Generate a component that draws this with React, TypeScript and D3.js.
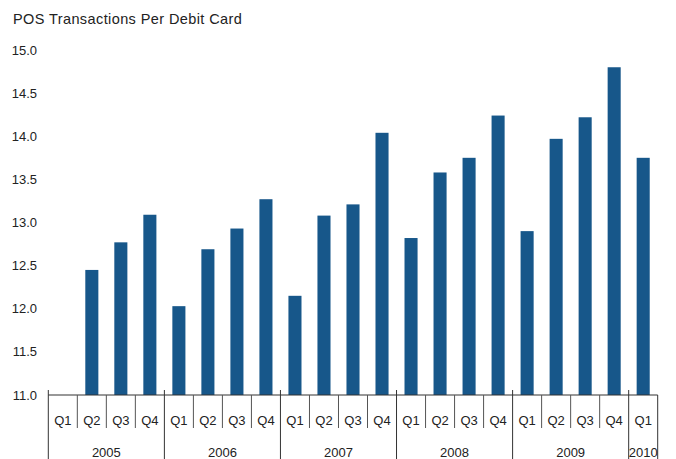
import React from 'react';
import * as d3 from 'd3';

// Quarterly series, Q1 2005 .. Q1 2010 (Q1 2005 has no value)
const quarters = ['Q1', 'Q2', 'Q3', 'Q4'];
const years = ['2005', '2006', '2007', '2008', '2009', '2010'];
const values: (number | null)[] = [
  null, 12.45, 12.77, 13.09,
  12.03, 12.69, 12.93, 13.27,
  12.15, 13.08, 13.21, 14.04,
  12.82, 13.58, 13.75, 14.24,
  12.90, 13.97, 14.22, 14.80,
  13.75,
];
const yTicks = [11.0, 11.5, 12.0, 12.5, 13.0, 13.5, 14.0, 14.5, 15.0];

const W = 676;
const H = 459;
const FONT = '"Liberation Sans", Arial, sans-serif';
const BAR = '#17578a';
const INK = '#222';

const App: React.FC = () => {
  const cats = values.map((_, i) => `${years[Math.floor(i / 4)]}-${quarters[i % 4]}`);

  const x = d3.scaleBand<string>()
    .domain(cats)
    .range([48.3, 657.7])
    .padding(0);

  const y = d3.scaleLinear()
    .domain([11, 15])
    .range([395, 50]);

  const bw = x.bandwidth() * 0.45;
  const axisY = y(11);

  // year groups: start index and length
  const groups = years.map((yr, gi) => {
    const start = gi * 4;
    const len = Math.min(4, values.length - start);
    return { yr, start, len };
  });

  return (
    <svg width={W} height={H} style={{ position: 'absolute', left: 0, top: 0, background: '#fff' }}
      fontFamily={FONT}>
      <text x={13} y={24} fontSize={14.5} fill={INK} letterSpacing={0.4}>
        POS Transactions Per Debit Card
      </text>

      {yTicks.map(t => (
        <text key={t} x={37} y={y(t)} dy="0.35em" textAnchor="end" fontSize={13} fill={INK}>
          {t.toFixed(1)}
        </text>
      ))}

      {values.map((v, i) => v == null ? null : (
        <rect key={cats[i]}
          x={(x(cats[i]) as number) + (x.bandwidth() - bw) / 2}
          y={y(v)}
          width={bw}
          height={axisY - y(v)}
          fill={BAR} />
      ))}

      <line x1={x.range()[0]} x2={x.range()[1]} y1={axisY} y2={axisY} stroke="#333" strokeWidth={1.2} />

      {/* quarter separators */}
      {cats.map((c, i) => i % 4 === 0 ? null : (
        <line key={'q' + c} x1={x(c) as number} x2={x(c) as number} y1={axisY} y2={428}
          stroke="#555" strokeWidth={1} />
      ))}

      {/* year separators */}
      {groups.map(g => (
        <line key={'y' + g.yr} x1={x(cats[g.start]) as number} x2={x(cats[g.start]) as number}
          y1={390} y2={H} stroke="#333" strokeWidth={1} />
      ))}
      <line x1={x.range()[1]} x2={x.range()[1]} y1={axisY} y2={H} stroke="#333" strokeWidth={1} />

      {cats.map((c, i) => (
        <text key={'ql' + c} x={(x(c) as number) + x.bandwidth() / 2} y={420} dy="0.35em"
          textAnchor="middle" fontSize={13} fill={INK}>
          {quarters[i % 4]}
        </text>
      ))}

      {groups.map(g => (
        <text key={'yl' + g.yr}
          x={(x(cats[g.start]) as number) + x.bandwidth() * g.len / 2}
          y={452} dy="0.35em" textAnchor="middle" fontSize={13} fill={INK}>
          {g.yr}
        </text>
      ))}
    </svg>
  );
};

export default App;
